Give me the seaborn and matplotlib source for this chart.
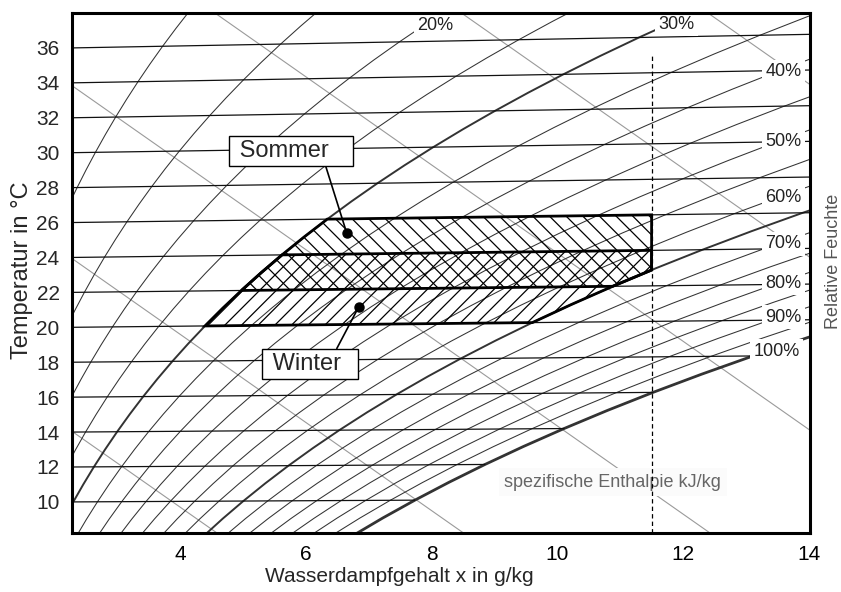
import numpy as np
import matplotlib
matplotlib.use("Agg")
import matplotlib.pyplot as plt
import seaborn as sns

# saturation pressure of water vapour (steam table), kPa
temps = list(range(6, 41))
p_sat = [0.9353, 1.0021, 1.0730, 1.1482, 1.2282, 1.3130, 1.4028, 1.4981, 1.5990,
         1.7058, 1.8188, 1.9384, 2.0647, 2.1983, 2.3392, 2.4881, 2.6452, 2.8109,
         2.9856, 3.1697, 3.3637, 3.5679, 3.7828, 4.0089, 4.2467, 4.4966, 4.7592,
         5.0351, 5.3247, 5.6286, 5.9475, 6.2818, 6.6324, 6.9997, 7.3844]

rh_levels = [10, 15, 20, 25, 30, 35, 40, 45, 50, 55, 60, 65, 70, 75, 80, 85, 90, 95, 100]
rh_labels = [20, 30, 40, 50, 60, 70, 80, 90, 100]
isotherms = [10, 12, 14, 16, 18, 20, 22, 24, 26, 28, 30, 32, 34, 36]
enthalpies = [20, 30, 40, 50, 60, 70]

# comfort zones
winter_t = (20, 24)
summer_t = (22, 26)
rh_low, rh_high = 30, 65
x_limit = 11.5

p_total = 100.0
x_left, x_right = 2.28, 14.02
y_bottom, y_top = 8.22, 38.0
enth_slope = 2.55

sns.set_style("white")
plt.rcParams["font.family"] = ["Liberation Sans", "DejaVu Sans"]
plt.rcParams["hatch.linewidth"] = 0.9

t_arr = np.array(temps, dtype=float)
ps_arr = np.array(p_sat)
c0 = 1.006 + 0.00186 * x_left


def moisture(rh, ps):
    pv = rh / 100.0 * ps
    return 622.0 * pv / (p_total - pv)


def skew(t, x):
    return t * (1.006 + 0.00186 * x) / c0


def psat(t):
    return ps_arr[temps.index(t)]


fig = plt.figure(figsize=(8.41, 5.92), dpi=100)
ax = fig.add_axes([72 / 841, 59 / 592, 738 / 841, 520 / 592])

# enthalpy lines
xs = np.array([x_left, x_right])
for h in enthalpies:
    ax.plot(xs, (h - enth_slope * xs) / c0, color="#9a9a9a", lw=0.8, zorder=1)

# relative humidity curves
for rh in rh_levels:
    x = moisture(rh, ps_arr)
    if rh == 100:
        lw, col = 2.0, "#333333"
    elif rh in (rh_low, rh_high):
        lw, col = 1.4, "#333333"
    else:
        lw, col = 0.75, "#333333"
    sns.lineplot(x=x, y=skew(t_arr, x), ax=ax, color=col, lw=lw, sort=False,
                 estimator=None, zorder=2)

# isotherms, ending on the saturation curve
for t in isotherms:
    xe = min(x_right, moisture(100, psat(t)))
    ax.plot([x_left, xe], [skew(t, x_left), skew(t, xe)], color="#111111", lw=0.9, zorder=2)


def zone(t_lo, t_hi):
    x65 = moisture(rh_high, ps_arr)
    t_c = np.interp(x_limit, x65, t_arr)
    pts = [(moisture(rh_low, psat(t_lo)), t_lo), (moisture(rh_high, psat(t_lo)), t_lo)]
    for t in temps:
        if t_lo < t < t_c:
            pts.append((moisture(rh_high, psat(t)), t))
    pts.append((x_limit, t_c))
    pts.append((x_limit, t_hi))
    for t in reversed(temps):
        if t_lo <= t <= t_hi:
            pts.append((moisture(rh_low, psat(t)), t))
    px = np.array([p[0] for p in pts])
    pt = np.array([p[1] for p in pts], dtype=float)
    return px, skew(pt, px)


wx, wy = zone(*winter_t)
sx, sy = zone(*summer_t)
ax.fill(wx, wy, facecolor="none", edgecolor="black", hatch="//", lw=0, zorder=3)
ax.fill(sx, sy, facecolor="none", edgecolor="black", hatch="\\\\", lw=0, zorder=3)
ax.fill(wx, wy, facecolor="none", edgecolor="black", lw=2.0, zorder=4)
ax.fill(sx, sy, facecolor="none", edgecolor="black", lw=2.0, zorder=4)

ax.vlines(x_limit, y_bottom, 35.6, colors="black", lw=0.9, linestyles=(0, (3.5, 2.5)),
          zorder=4)

# RH labels
label_x = {20: 7.77, 30: 11.61, 40: 13.31, 50: 13.31, 60: 13.31, 70: 13.31,
           80: 13.31, 90: 13.31, 100: 13.12}
for rh in rh_labels:
    x = moisture(rh, ps_arr)
    y = skew(t_arr, x)
    xa = label_x[rh]
    ya = np.interp(xa, x, y)
    ax.text(xa, ya, f"{rh}%", ha="left", va="baseline", fontsize=13, color="#222222",
            bbox=dict(boxstyle="square,pad=0.2", fc="white", ec="none"), zorder=5)

ax.text(9.16, 11.14, "spezifische Enthalpie kJ/kg", ha="left", va="center", fontsize=13,
        color="#666666", bbox=dict(boxstyle="square,pad=0.3", fc="#fbfbfb", ec="none"),
        zorder=3.5)

# callouts
box = dict(boxstyle="square,pad=0.17", fc="white", ec="black", lw=1.0)
ax.annotate(" Sommer   ", xy=(6.65, 25.4), xytext=(4.84, 30.12), ha="left", va="center",
            fontsize=17, bbox=box,
            arrowprops=dict(arrowstyle="-", color="black", lw=1.2, relpos=(0.79, 0),
                            shrinkA=0, shrinkB=0), zorder=6)
ax.annotate(" Winter  ", xy=(6.84, 21.16), xytext=(5.36, 17.9), ha="left", va="center",
            fontsize=17, bbox=box,
            arrowprops=dict(arrowstyle="-", color="black", lw=1.2, relpos=(0.78, 1),
                            shrinkA=0, shrinkB=0), zorder=6)
ax.plot([6.65, 6.84], [25.4, 21.16], "o", color="black", ms=6.5, zorder=7)

ax.set_xlim(x_left, x_right)
ax.set_ylim(y_bottom, y_top)
ax.set_xticks([4, 6, 8, 10, 12, 14])
ax.set_xticks([3, 5, 7, 9, 11, 13], minor=True)
ax.set_yticks(isotherms)
ax.tick_params(axis="x", which="major", direction="in", length=13, width=1.1, pad=9,
               labelsize=15, colors="black")
ax.tick_params(axis="x", which="minor", direction="in", length=6, width=1.1)
ax.tick_params(axis="y", length=0, pad=9, labelsize=15)
for s in ax.spines.values():
    s.set_linewidth(2.2)
    s.set_color("black")
    s.set_zorder(8)

fig.text(399 / 841, 1 - 577 / 592, "Wasserdampfgehalt x in g/kg", ha="center", va="center",
         fontsize=15)
fig.text(22 / 841, 1 - 270 / 592, "Temperatur in °C", ha="center", va="center",
         rotation=90, fontsize=17)
fig.text(834 / 841, 1 - 261 / 592, "Relative Feuchte", ha="center", va="center",
         rotation=90, fontsize=13, color="#555555")

fig.savefig("out.png", dpi=100)
